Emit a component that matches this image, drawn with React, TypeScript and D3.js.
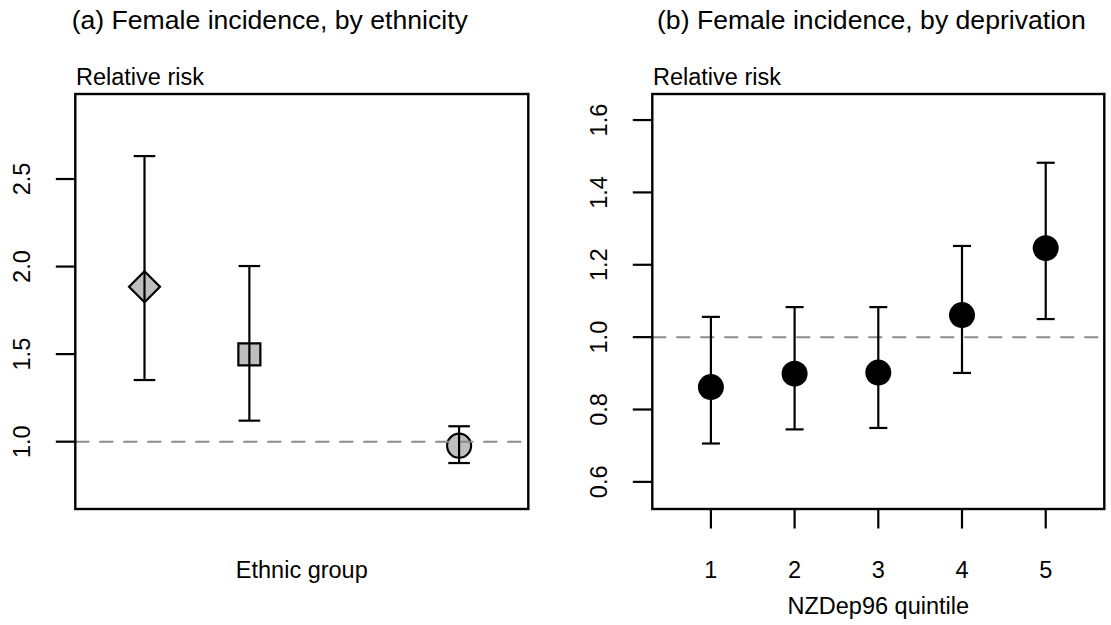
import React from 'react';
import * as d3 from 'd3';

// (a) ethnicity: positions on a 0.5..4.5 axis, group 3 not shown
const ethnicX = [1, 2, 4];
const ethnicRR = [1.885, 1.499, 0.977];
const ethnicLo = [1.352, 1.12, 0.878];
const ethnicHi = [2.631, 2.003, 1.088];
const ethnicShape = ['diamond', 'square', 'circle'];
const ethnicTicks = [1.0, 1.5, 2.0, 2.5];

// (b) deprivation quintiles
const quintiles = [1, 2, 3, 4, 5];
const depRR = [0.862, 0.899, 0.902, 1.061, 1.246];
const depLo = [0.706, 0.745, 0.749, 0.901, 1.05];
const depHi = [1.056, 1.083, 1.083, 1.252, 1.482];
const depTicks = [0.6, 0.8, 1.0, 1.2, 1.4, 1.6];

const FONT = '"Liberation Sans", Arial, Helvetica, sans-serif';
const TOP = 94;
const BOTTOM = 509;
const TICK = 19.5;
const LW = 2.2;

const ErrorBar = ({ x, lo, hi, cap }) => (
  <g stroke="#000" strokeWidth={LW}>
    <line x1={x} x2={x} y1={lo} y2={hi} />
    <line x1={x - cap} x2={x + cap} y1={lo} y2={lo} />
    <line x1={x - cap} x2={x + cap} y1={hi} y2={hi} />
  </g>
);

const YAxis = ({ y, left, ticks }) => (
  <g>
    {ticks.map((t) => (
      <g key={t}>
        <line x1={left - TICK} x2={left} y1={y(t)} y2={y(t)} stroke="#000" strokeWidth={LW} />
        <text
          transform={`translate(${left - 45},${y(t)}) rotate(-90)`}
          textAnchor="middle"
          fontSize={23.5}
        >
          {t.toFixed(1)}
        </text>
      </g>
    ))}
  </g>
);

const App = () => {
  // panel (a)
  const xa = d3.scaleLinear().domain([0.34, 4.66]).range([75.3, 528.3]);
  const ya = d3.scaleLinear().domain([0.6155, 2.9855]).range([BOTTOM, TOP]);
  // panel (b)
  const xb = d3.scaleLinear().domain([0.3, 5.7]).range([652.3, 1104.3]);
  const yb = d3.scaleLinear().domain([0.525, 1.672]).range([BOTTOM, TOP]);

  const sym = (shape) => {
    if (shape === 'circle') return d3.symbol(d3.symbolCircle, Math.PI * 12 * 12)();
    if (shape === 'square') return d3.symbol(d3.symbolSquare, 22 * 22)();
    return d3.symbol(d3.symbolSquare, 2 * 15.5 * 15.5)();
  };

  return (
    <svg
      width={1111}
      height={625}
      style={{ position: 'absolute', left: 0, top: 0, background: '#fff' }}
      fontFamily={FONT}
    >
      {/* titles */}
      <text x={71.7} y={29} fontSize={26.6}>(a) Female incidence, by ethnicity</text>
      <text x={657} y={29} fontSize={26.6}>(b) Female incidence, by deprivation</text>

      {/* ---------- panel (a) ---------- */}
      <text x={76} y={85} fontSize={23.5}>Relative risk</text>
      <YAxis y={ya} left={xa.range()[0]} ticks={ethnicTicks} />
      {ethnicX.map((x, i) => (
        <path
          key={i}
          d={sym(ethnicShape[i])}
          transform={`translate(${xa(x)},${ya(ethnicRR[i])})${ethnicShape[i] === 'diamond' ? ' rotate(45)' : ''}`}
          fill="#bebebe"
          stroke="#000"
          strokeWidth={LW}
        />
      ))}
      <line
        x1={xa.range()[0]}
        x2={xa.range()[1]}
        y1={ya(1)}
        y2={ya(1)}
        stroke="#8c8c8c"
        strokeWidth={2}
        strokeDasharray="14,10"
      />
      {ethnicX.map((x, i) => (
        <ErrorBar key={i} x={xa(x)} lo={ya(ethnicLo[i])} hi={ya(ethnicHi[i])} cap={10.8} />
      ))}
      <rect
        x={xa.range()[0]}
        y={TOP}
        width={xa.range()[1] - xa.range()[0]}
        height={BOTTOM - TOP}
        fill="none"
        stroke="#000"
        strokeWidth={2.4}
      />
      <text x={(xa.range()[0] + xa.range()[1]) / 2} y={578} textAnchor="middle" fontSize={23.5}>
        Ethnic group
      </text>

      {/* ---------- panel (b) ---------- */}
      <text x={653} y={85} fontSize={23.5}>Relative risk</text>
      <YAxis y={yb} left={xb.range()[0]} ticks={depTicks} />
      <line
        x1={xb.range()[0]}
        x2={xb.range()[1]}
        y1={yb(1)}
        y2={yb(1)}
        stroke="#8c8c8c"
        strokeWidth={2}
        strokeDasharray="14,10"
      />
      {quintiles.map((q, i) => (
        <g key={q}>
          <ErrorBar x={xb(q)} lo={yb(depLo[i])} hi={yb(depHi[i])} cap={9} />
          <circle cx={xb(q)} cy={yb(depRR[i])} r={13} fill="#000" />
          <line x1={xb(q)} x2={xb(q)} y1={BOTTOM} y2={BOTTOM + TICK} stroke="#000" strokeWidth={LW} />
          <text x={xb(q)} y={578} textAnchor="middle" fontSize={23.5}>
            {q}
          </text>
        </g>
      ))}
      <rect
        x={xb.range()[0]}
        y={TOP}
        width={xb.range()[1] - xb.range()[0]}
        height={BOTTOM - TOP}
        fill="none"
        stroke="#000"
        strokeWidth={2.4}
      />
      <text x={(xb.range()[0] + xb.range()[1]) / 2} y={614} textAnchor="middle" fontSize={23.5}>
        NZDep96 quintile
      </text>
    </svg>
  );
};

export default App;
